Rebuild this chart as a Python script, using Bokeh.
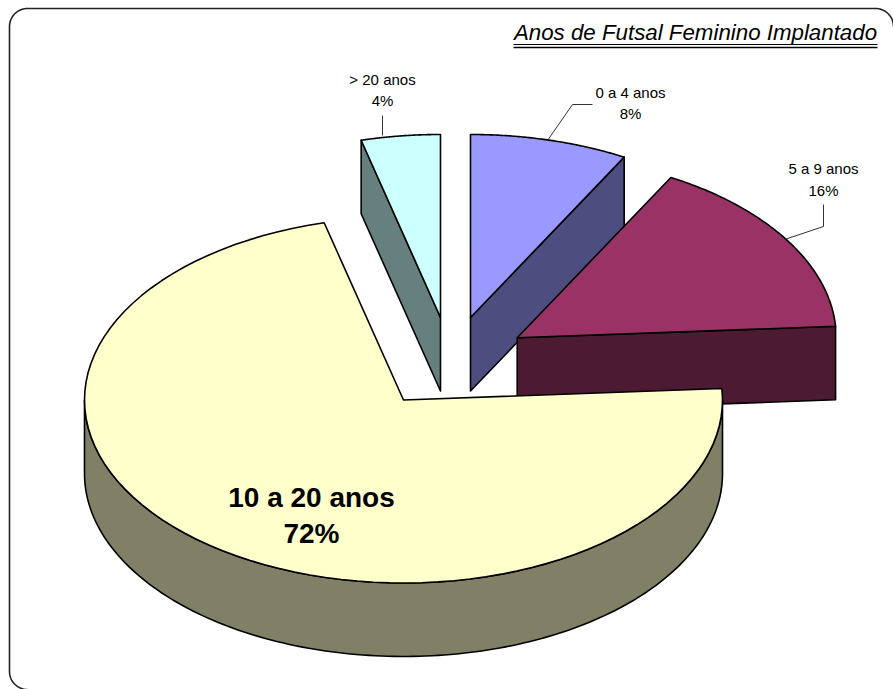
import numpy as np
from bokeh.core.properties import value
from bokeh.embed import file_html
from bokeh.plotting import figure
from bokeh.resources import INLINE

categories = ["0 a 4 anos", "5 a 9 anos", "10 a 20 anos", "> 20 anos"]
values = [8, 16, 72, 4]
top_colors = ["#9999FF", "#993366", "#FFFFCC", "#CCFFFF"]
side_colors = ["#4D4D80", "#4D1A33", "#808066", "#668080"]
title = "Anos de Futsal Feminino Implantado"

# layout (page pixels)
W, H = 893, 689
RX, RY, DEPTH = 319, 183, 73.5
CENTER = (403, 399.5)
EXPLODE = [(67, -82.5), (113.7, -62.2), (0, 0), (37, -82.5)]

p = figure(width=W, height=H, x_range=(0, W), y_range=(H, 0),
           x_axis_location=None, y_axis_location=None, toolbar_location=None,
           output_backend="svg", min_border=0, outline_line_color=None,
           background_fill_color="white", border_fill_color="white",
           styles={"position": "absolute", "left": "0px", "top": "0px"})
p.grid.visible = False


def arc(cx, cy, a0, a1, n=90):
    t = np.radians(np.linspace(a0, a1, n))
    return cx + RX * np.sin(t), cy - RY * np.cos(t)


# chart frame with rounded corners (right and bottom run off the page)
r = 18
t1 = np.radians(np.linspace(180, 270, 20))
t2 = np.radians(np.linspace(270, 360, 20))
t3 = np.radians(np.linspace(90, 180, 20))
fx = np.concatenate([r + 9 + r * np.cos(t3), r + 9 + r * np.cos(t1), 893 - r + r * np.cos(t2)])
fy = np.concatenate([689 - r + r * np.sin(t3), r + 8 + r * np.sin(t1), r + 8 + r * np.sin(t2)])
p.line(fx, fy, line_color="#222222", line_width=1.6)

# slices, painted back to front
edges = np.cumsum([0] + values) / sum(values) * 360
slices = [(3, edges[3], edges[4]), (0, edges[0], edges[1]),
          (1, edges[1], edges[2]), (2, edges[2], edges[3])]
for i, a0, a1 in slices:
    cx, cy = CENTER[0] + EXPLODE[i][0], CENTER[1] + EXPLODE[i][1]
    ax, ay = arc(cx, cy, a0, a1)
    sides = []
    if i in (0, 1):   # cut face on the trailing radius
        sides.append(([cx, ax[-1], ax[-1], cx], [cy, ay[-1], ay[-1] + DEPTH, cy + DEPTH]))
    if i == 3:   # cut face on the leading radius
        sides.append(([cx, ax[0], ax[0], cx], [cy, ay[0], ay[0] + DEPTH, cy + DEPTH]))
    if i == 2:   # outer rim facing the viewer
        wx, wy = arc(cx, cy, max(a0, 90), min(a1, 270), 160)
        sides.append((np.r_[wx, wx[::-1]], np.r_[wy, wy[::-1] + DEPTH]))
    for sx, sy in sides:
        p.patch(sx, sy, fill_color=side_colors[i], line_color="black",
                line_width=1.6, line_join="round")
    p.patch(np.r_[cx, ax], np.r_[cy, ay], fill_color=top_colors[i],
            line_color="black", line_width=1.6, line_join="round")

# leader lines
p.line([547, 572, 592], [140, 104, 104], line_color="#333333", line_width=1)
p.line([784, 823, 823], [239, 226, 204], line_color="#333333", line_width=1)
p.line([382, 382], [135, 115], line_color="#333333", line_width=1)


def label(x, y, txt, size, style="normal"):
    p.text([x], [y], text=[txt], text_font=value("Liberation Sans"),
           text_font_size=size, text_font_style=style, text_color="black",
           text_align="center", text_baseline="middle")


pct = [f"{round(v / sum(values) * 100)}%" for v in values]
label(630, 92, categories[0], "15px")
label(630, 113, pct[0], "15px")
label(823, 168, categories[1], "15px")
label(823, 190, pct[1], "15px")
label(382, 79, categories[3], "15px")
label(382, 100, pct[3], "15px")
label(311, 497, categories[2], "28px", "bold")
label(311, 533, pct[2], "28px", "bold")

# title with its double underline
label(695, 31.5, title, "22.3px", "italic")
p.line([513, 877], [44, 44], line_color="black", line_width=1)
p.line([513, 877], [47, 47], line_color="black", line_width=1.6)

open("out.html", "w").write(file_html(p, INLINE))
